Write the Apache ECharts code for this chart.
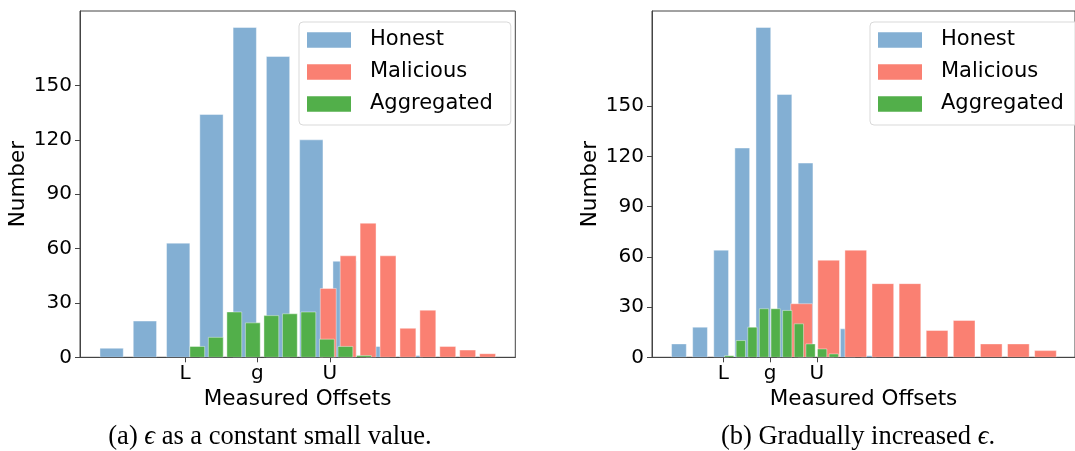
<!DOCTYPE html>
<html>
<head>
<meta charset="utf-8">
<script src="https://cdn.jsdelivr.net/npm/echarts@6/dist/echarts.min.js"></script>
<style>
html,body{margin:0;padding:0;background:#fff;}
#chart{width:1075px;height:451px;}
</style>
</head>
<body>
<div id="chart"></div>
<script>
// ---------- data ----------
const seriesNames = ['Honest', 'Malicious', 'Aggregated'];
const xTickValues = [-1, 0, 1];
const xTickLabels = ['L', 'g', 'U'];
const yTickValues = [0, 30, 60, 90, 120, 150];

// Panel (a): histogram counts per bin
const honestA = [5, 20, 63, 134, 182, 166, 120, 53, 6, 1];
const maliciousA = [38, 56, 74, 56, 16, 26, 6, 4, 2];
const aggregatedA = [6, 11, 25, 19, 23, 24, 25, 10, 6, 1];
// bin [first left edge, bin width] in offset units (g = 0, L = -1, U = 1)
const honestBinsA = [-2.244, 0.4598];
const maliciousBinsA = [0.841, 0.2752];
const aggregatedBinsA = [-0.959, 0.2559];

// Panel (b)
const honestB = [8, 18, 64, 125, 197, 157, 116, 50, 17, 1];
const maliciousB = [32, 58, 64, 44, 44, 16, 22, 8, 8, 4];
const aggregatedB = [1, 10, 18, 29, 29, 28, 20, 8, 5, 2];
const honestBinsB = [-2.171, 0.4507];
const maliciousBinsB = [0.3836, 0.5788];
const aggregatedBinsB = [-0.997, 0.2482];

const captionA = '(a) {i|ϵ} as a constant small value.';
const captionB = '(b) Gradually increased {i|ϵ}.';

// ---------- styling ----------
const colors = ['#83afd3', '#fa8072', '#52af4a'];
const rwidths = [0.7, 0.8, 0.8];
const sansFont = 'DejaVu Sans';

function binData(counts, bins, rw) {
  const [start, w] = bins;
  return counts.map((c, i) => {
    const l = start + i * w + (1 - rw) / 2 * w;
    return [l, l + rw * w, c];
  });
}

function renderBar(params, api) {
  const p0 = api.coord([api.value(0), api.value(2)]);
  const p1 = api.coord([api.value(1), 0]);
  return {
    type: 'rect',
    shape: { x: p0[0], y: p0[1], width: p1[0] - p0[0], height: p1[1] - p0[1] },
    style: { fill: api.visual('color'), stroke: 'rgba(255,255,255,0.7)', lineWidth: 0.6 }
  };
}

function makeSeries(gridIdx, counts, bins) {
  return counts.map((c, k) => ({
    type: 'custom',
    name: seriesNames[k],
    xAxisIndex: gridIdx,
    yAxisIndex: gridIdx,
    itemStyle: { color: colors[k] },
    renderItem: renderBar,
    encode: { x: [0, 1], y: 2 },
    clip: true,
    data: binData(c, bins[k], rwidths[k])
  }));
}

const axisLineStyle = { color: '#444', width: 1 };

function xAxis(gridIdx, min, max) {
  return {
    type: 'value', gridIndex: gridIdx, min: min, max: max,
    name: 'Measured Offsets', nameLocation: 'middle', nameGap: 30,
    nameTextStyle: { fontFamily: sansFont, fontSize: 21.5, color: '#000' },
    axisLine: { show: true, onZero: false, lineStyle: axisLineStyle },
    axisTick: { show: true, customValues: xTickValues, length: 5, lineStyle: axisLineStyle },
    axisLabel: {
      customValues: xTickValues, margin: 6,
      formatter: v => xTickLabels[xTickValues.indexOf(v)] || '',
      fontFamily: sansFont, fontSize: 20, color: '#000'
    },
    splitLine: { show: false }
  };
}

function yAxis(gridIdx, max) {
  return {
    type: 'value', gridIndex: gridIdx, min: 0, max: max,
    name: 'Number', nameLocation: 'middle', nameGap: 51,
    nameTextStyle: { fontFamily: sansFont, fontSize: 21.5, color: '#000' },
    axisLine: { show: true, onZero: false, lineStyle: axisLineStyle },
    axisTick: { show: true, customValues: yTickValues, length: 5, lineStyle: axisLineStyle },
    axisLabel: { customValues: yTickValues, margin: 8, fontFamily: sansFont, fontSize: 20, color: '#000' },
    splitLine: { show: false }
  };
}

function legend(left) {
  return {
    orient: 'vertical', left: left, top: 22,
    data: seriesNames.map(n => ({ name: n, icon: 'rect' })),
    itemWidth: 44, itemHeight: 15.5, itemGap: 10,
    padding: [7, 18, 10, 8],
    backgroundColor: 'rgba(255,255,255,0.8)',
    borderColor: '#d9d9d9', borderWidth: 1, borderRadius: 4,
    textStyle: { fontFamily: sansFont, fontSize: 21, color: '#000', lineHeight: 22, padding: [0, 0, 0, 14] },
    selectedMode: false
  };
}

const captionStyle = { fontFamily: 'Liberation Serif', fontSize: 26.5, fill: '#000', textAlign: 'center', textVerticalAlign: 'middle' };
const italicRich = { i: { fontFamily: 'Liberation Serif', fontStyle: 'italic', fontSize: 26.5 } };

const option = {
  animation: false,
  backgroundColor: '#fff',
  grid: [
    { left: 80, top: 11, width: 435.3, height: 346.3, show: true, borderColor: '#444', borderWidth: 1, backgroundColor: 'transparent' },
    { left: 652, top: 11, width: 435, height: 346.3, show: true, borderColor: '#444', borderWidth: 1, backgroundColor: 'transparent' }
  ],
  xAxis: [xAxis(0, -2.451, 3.563), xAxis(1, -2.521, 6.513)],
  yAxis: [yAxis(0, 191.1), yAxis(1, 206.85)],
  legend: [legend(299), legend(870)],
  series: [
    ...makeSeries(0, [honestA, maliciousA, aggregatedA], [honestBinsA, maliciousBinsA, aggregatedBinsA]),
    ...makeSeries(1, [honestB, maliciousB, aggregatedB], [honestBinsB, maliciousBinsB, aggregatedBinsB])
  ],
  graphic: [
    { type: 'text', x: 270, y: 437, style: Object.assign({ text: captionA, rich: italicRich }, captionStyle) },
    { type: 'text', x: 858, y: 437, style: Object.assign({ text: captionB, rich: italicRich }, captionStyle) }
  ]
};

const chart = echarts.init(document.getElementById('chart'), null, { renderer: 'canvas' });
chart.setOption(option);
</script>
</body>
</html>
